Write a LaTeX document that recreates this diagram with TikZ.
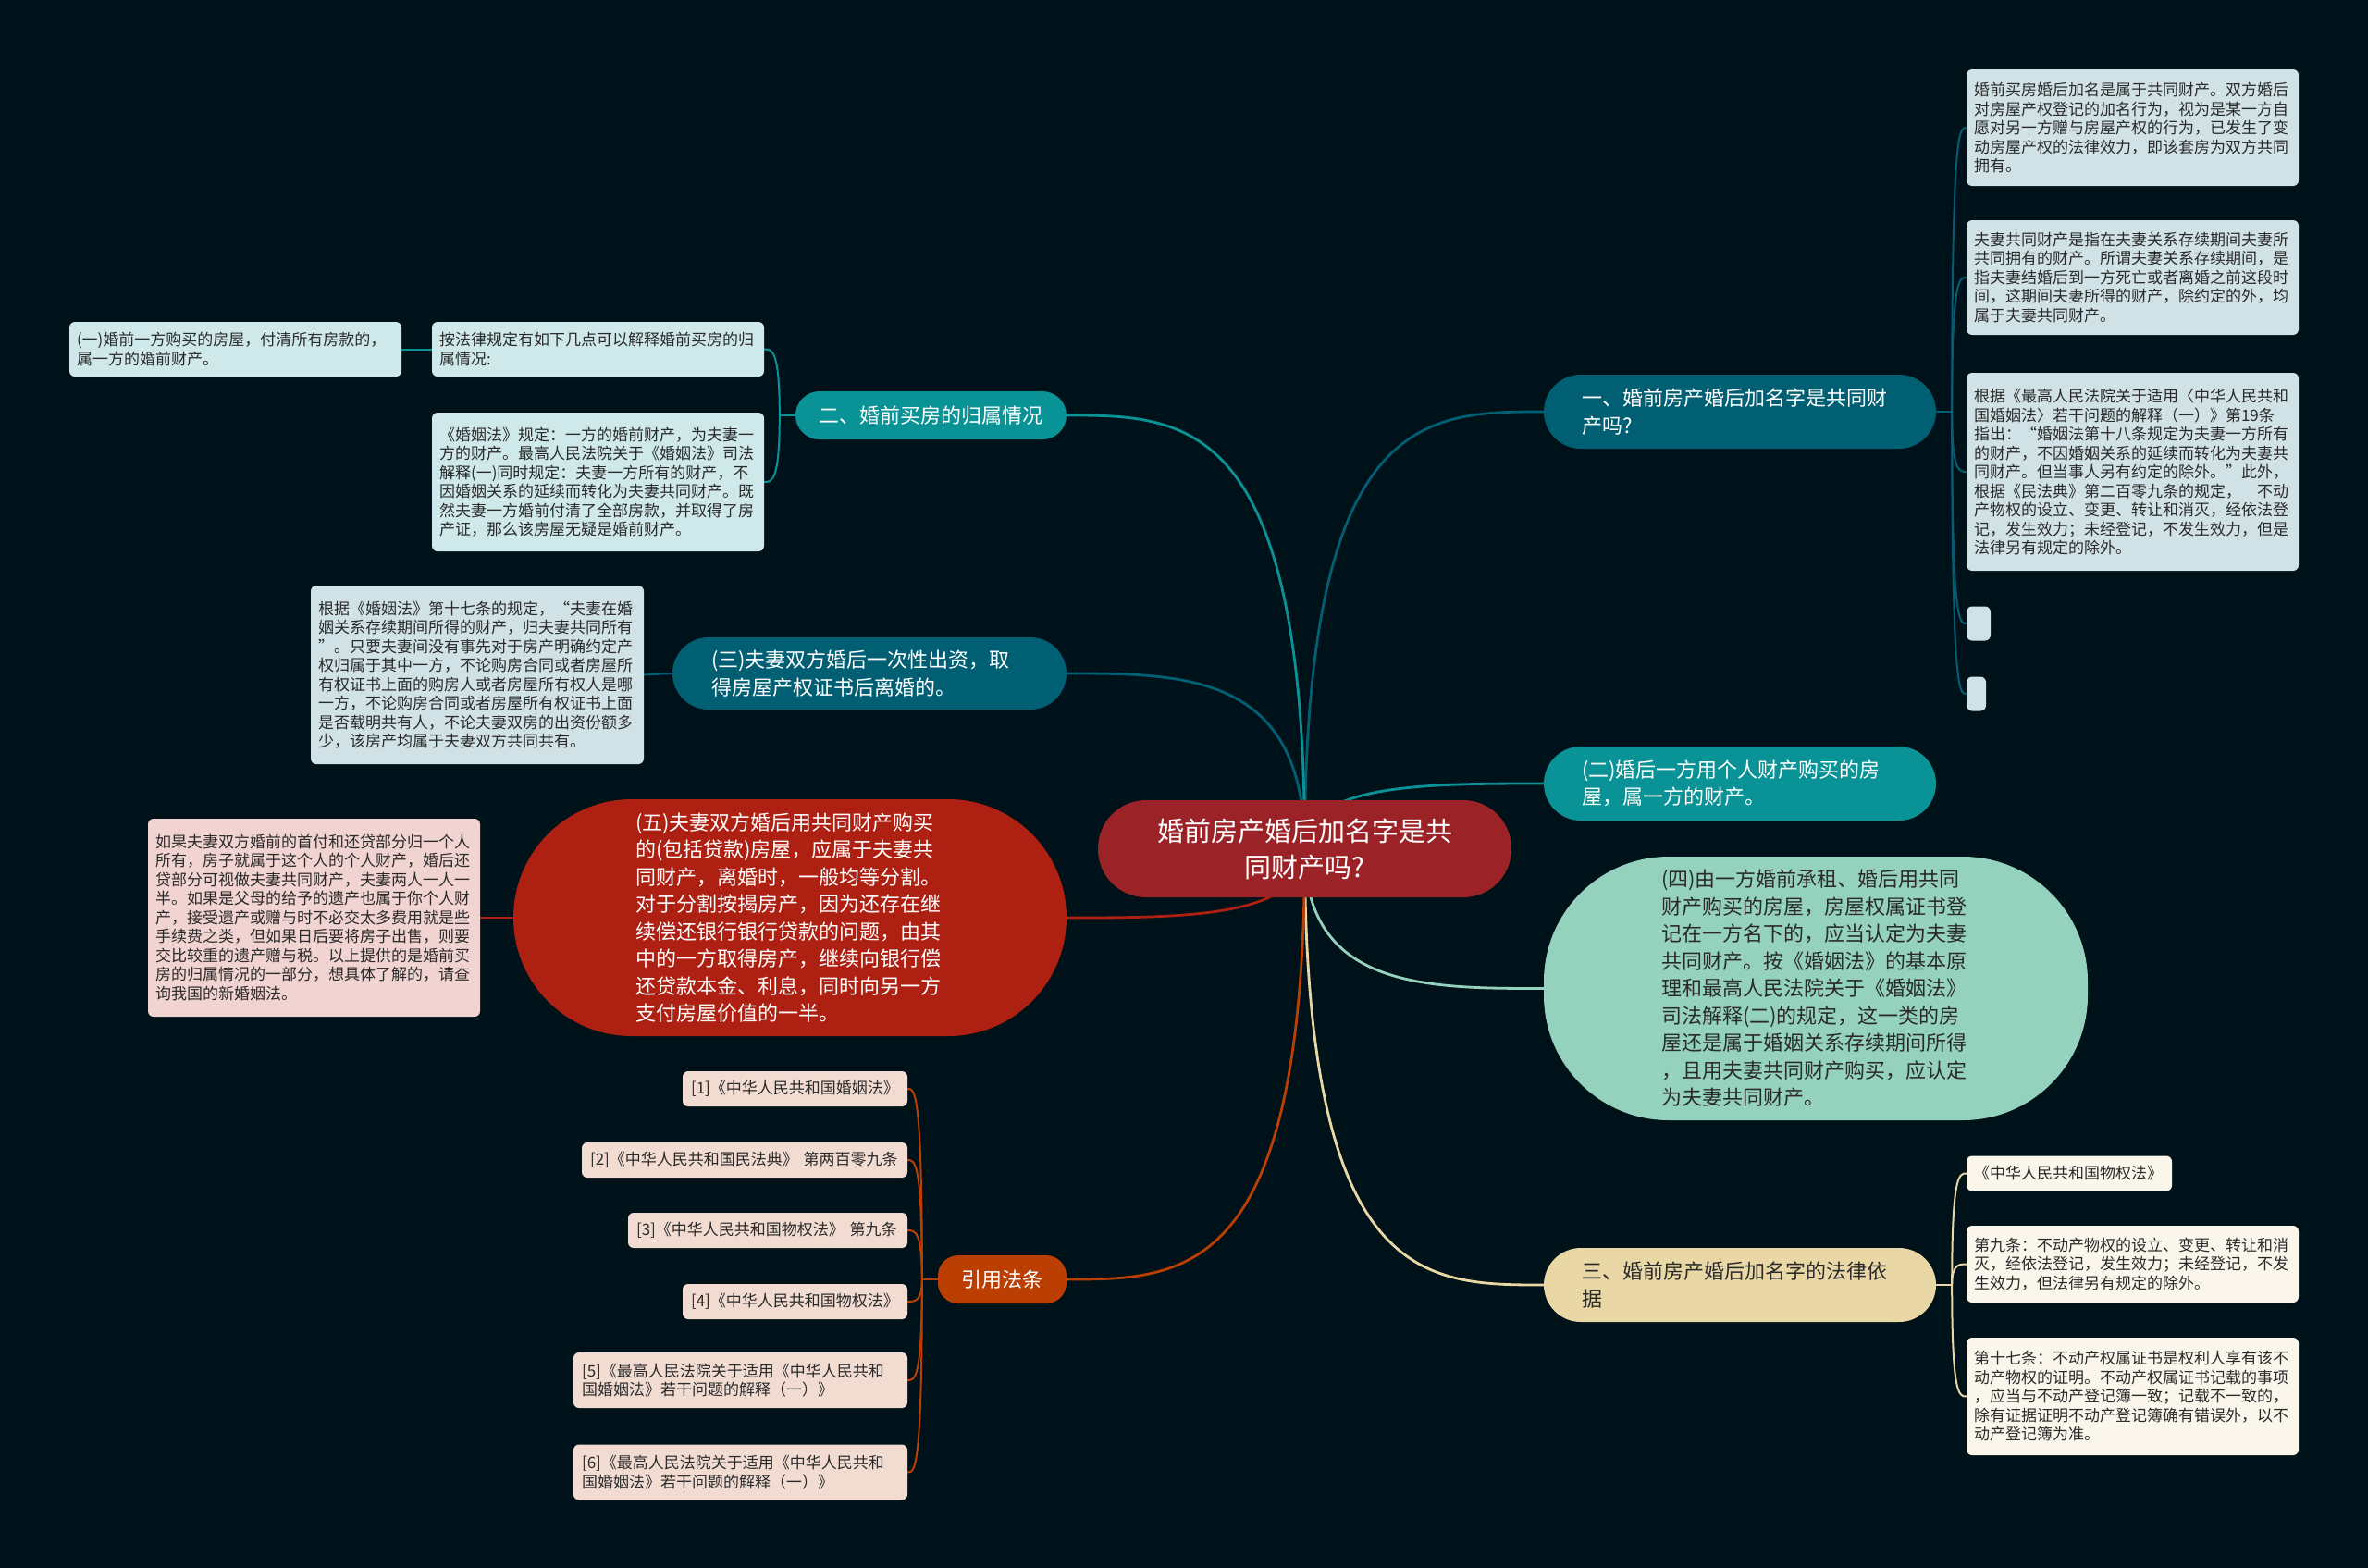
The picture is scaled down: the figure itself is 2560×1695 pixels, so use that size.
\documentclass[tikz,border=0pt]{standalone}
\usepackage{fontspec}
\setmainfont{Noto Sans CJK SC}
\usetikzlibrary{calc}
\definecolor{bgc}{HTML}{001219}
\definecolor{c1}{HTML}{005F73}
\definecolor{c2}{HTML}{0A9396}
\definecolor{c3}{HTML}{94D2BD}
\definecolor{c4}{HTML}{E9D8A6}
\definecolor{c8}{HTML}{BB3E03}
\definecolor{c9}{HTML}{AE2012}
\definecolor{c10}{HTML}{9B2226}
\definecolor{lf1}{HTML}{D0E2E6}
\definecolor{lf2}{HTML}{CFE9EA}
\definecolor{lf4}{HTML}{FAF6EC}
\definecolor{lf8}{HTML}{F2DCD2}
\definecolor{lf9}{HTML}{F1D4D1}
\definecolor{ink}{HTML}{2A2A2A}
\pgfdeclarelayer{back}
\pgfdeclarelayer{links}
\pgfsetlayers{back,links,main}
\newcommand\mmcurve[3]{\draw[#1] let \p1=(#2), \p2=(#3) in (\p1) .. controls (\x1,\y2) and ({0.5*\x1+0.5*\x2},\y2) .. (\p2);}
\tikzset{
  mm/.style={rectangle, inner sep=0pt, align=left},
  rootbox/.style={mm, fill=c10, text=white, align=center, rounded corners=52pt, minimum width=447pt, minimum height=105pt, font=\fontsize{29}{39}\selectfont},
  topic/.style={mm, rounded corners=40pt, minimum height=80pt, font=\fontsize{22}{29.5}\selectfont},
  leaf/.style={mm, rounded corners=6pt, text=ink, font=\fontsize{17}{20.5}\selectfont},
  link/.style={line width=2.8pt},
  sublink/.style={line width=2pt},
}
\begin{document}
\begin{tikzpicture}[x=1pt,y=-1pt]
\useasboundingbox (0,0) rectangle (2560,1695);
\begin{pgfonlayer}{back}
\fill[bgc] (0,0) rectangle (2560,1695);
\end{pgfonlayer}

% root
\node[rootbox] (root) at (1410.5,917.5) {婚前房产婚后加名字是共\\同财产吗?};

% main topics
\node[topic, fill=c1, text=white, minimum width=424pt, text width=342pt] (t1) at (1881,445) {一、婚前房产婚后加名字是共同财\\产吗?};
\node[topic, fill=c2, text=white, minimum width=424pt, text width=342pt] (t2) at (1881,847) {(二)婚后一方用个人财产购买的房\\屋，属一方的财产。};
\node[topic, fill=c3, text=ink, minimum width=588pt, minimum height=285pt, rounded corners=135pt, text width=334pt] (t4) at (1963,1068.5) {(四)由一方婚前承租、婚后用共同\\财产购买的房屋，房屋权属证书登\\记在一方名下的，应当认定为夫妻\\共同财产。按《婚姻法》的基本原\\理和最高人民法院关于《婚姻法》\\司法解释(二)的规定，这一类的房\\屋还是属于婚姻关系存续期间所得\\，且用夫妻共同财产购买，应认定\\为夫妻共同财产。};
\node[topic, fill=c4, text=ink, minimum width=424pt, text width=342pt] (t3) at (1881,1389) {三、婚前房产婚后加名字的法律依\\据};
\node[topic, fill=c2, text=white, minimum width=293pt, minimum height=52pt, rounded corners=26pt, align=center] (t5) at (1006.5,449) {二、婚前买房的归属情况};
\node[topic, fill=c1, text=white, minimum width=426pt, minimum height=78pt, rounded corners=39pt, text width=342pt] (t6) at (940,728) {(三)夫妻双方婚后一次性出资，取\\得房屋产权证书后离婚的。};
\node[topic, fill=c9, text=white, minimum width=598pt, minimum height=256pt, rounded corners=128pt, text width=334pt] (t7) at (854,992) {(五)夫妻双方婚后用共同财产购买\\的(包括贷款)房屋，应属于夫妻共\\同财产，离婚时，一般均等分割。\\对于分割按揭房产，因为还存在继\\续偿还银行银行贷款的问题，由其\\中的一方取得房产，继续向银行偿\\还贷款本金、利息，同时向另一方\\支付房屋价值的一半。};
\node[topic, fill=c8, text=white, minimum width=139pt, minimum height=52pt, rounded corners=22pt, align=center] (t8) at (1083.5,1383) {引用法条};

% leaves of t1
\node[leaf, fill=lf1, minimum width=359pt, minimum height=126pt, text width=343pt] (l1) at (2305.5,138) {婚前买房婚后加名是属于共同财产。双方婚后\\对房屋产权登记的加名行为，视为是某一方自\\愿对另一方赠与房屋产权的行为，已发生了变\\动房屋产权的法律效力，即该套房为双方共同\\拥有。};
\node[leaf, fill=lf1, minimum width=359pt, minimum height=124pt, text width=343pt] (l2) at (2305.5,300) {夫妻共同财产是指在夫妻关系存续期间夫妻所\\共同拥有的财产。所谓夫妻关系存续期间，是\\指夫妻结婚后到一方死亡或者离婚之前这段时\\间，这期间夫妻所得的财产，除约定的外，均\\属于夫妻共同财产。};
\node[leaf, fill=lf1, minimum width=359pt, minimum height=214pt, text width=343pt] (l3) at (2305.5,510) {根据《最高人民法院关于适用〈中华人民共和\\国婚姻法〉若干问题的解释（一）》第19条\\指出：“婚姻法第十八条规定为夫妻一方所有\\的财产，不因婚姻关系的延续而转化为夫妻共\\同财产。但当事人另有约定的除外。”此外，\\根据《民法典》第二百零九条的规定，　不动\\产物权的设立、变更、转让和消灭，经依法登\\记，发生效力；未经登记，不发生效力，但是\\法律另有规定的除外。};
\node[leaf, fill=lf1, minimum width=26pt, minimum height=37pt] (l4) at (2139,674) {};
\node[leaf, fill=lf1, minimum width=21pt, minimum height=37pt] (l5) at (2136.5,750) {};

% leaves of t3
\node[leaf, fill=lf4, minimum width=222pt, minimum height=38pt, text width=206pt] (m1) at (2237,1268.5) {《中华人民共和国物权法》};
\node[leaf, fill=lf4, minimum width=359pt, minimum height=83pt, text width=343pt] (m2) at (2305.5,1366.5) {第九条：不动产物权的设立、变更、转让和消\\灭，经依法登记，发生效力；未经登记，不发\\生效力，但法律另有规定的除外。};
\node[leaf, fill=lf4, minimum width=359pt, minimum height=127pt, text width=343pt] (m3) at (2305.5,1509.5) {第十七条：不动产权属证书是权利人享有该不\\动产物权的证明。不动产权属证书记载的事项\\，应当与不动产登记簿一致；记载不一致的，\\除有证据证明不动产登记簿确有错误外，以不\\动产登记簿为准。};

% leaves of t5
\node[leaf, fill=lf2, minimum width=359pt, minimum height=59pt, text width=343pt] (a1) at (646.5,377.5) {按法律规定有如下几点可以解释婚前买房的归\\属情况:};
\node[leaf, fill=lf2, minimum width=359pt, minimum height=59pt, text width=343pt] (a0) at (254.5,377.5) {(一)婚前一方购买的房屋，付清所有房款的，\\属一方的婚前财产。};
\node[leaf, fill=lf2, minimum width=359pt, minimum height=150pt, text width=343pt] (a2) at (646.5,521) {《婚姻法》规定：一方的婚前财产，为夫妻一\\方的财产。最高人民法院关于《婚姻法》司法\\解释(一)同时规定：夫妻一方所有的财产，不\\因婚姻关系的延续而转化为夫妻共同财产。既\\然夫妻一方婚前付清了全部房款，并取得了房\\产证，那么该房屋无疑是婚前财产。};

% leaf of t6
\node[leaf, fill=lf1, minimum width=360pt, minimum height=193pt, text width=344pt] (b1) at (516,729.5) {根据《婚姻法》第十七条的规定，“夫妻在婚\\姻关系存续期间所得的财产，归夫妻共同所有\\”。只要夫妻间没有事先对于房产明确约定产\\权归属于其中一方，不论购房合同或者房屋所\\有权证书上面的购房人或者房屋所有权人是哪\\一方，不论购房合同或者房屋所有权证书上面\\是否载明共有人，不论夫妻双房的出资份额多\\少，该房产均属于夫妻双方共同共有。};

% leaf of t7
\node[leaf, fill=lf9, minimum width=359pt, minimum height=214pt, text width=343pt] (c1n) at (339.5,992) {如果夫妻双方婚前的首付和还贷部分归一个人\\所有，房子就属于这个人的个人财产，婚后还\\贷部分可视做夫妻共同财产，夫妻两人一人一\\半。如果是父母的给予的遗产也属于你个人财\\产，接受遗产或赠与时不必交太多费用就是些\\手续费之类，但如果日后要将房子出售，则要\\交比较重的遗产赠与税。以上提供的是婚前买\\房的归属情况的一部分，想具体了解的，请查\\询我国的新婚姻法。};

% leaves of t8
\node[leaf, fill=lf8, minimum width=243pt, minimum height=38pt, text width=225pt] (r1) at (859.5,1177) {[1]《中华人民共和国婚姻法》};
\node[leaf, fill=lf8, minimum width=352pt, minimum height=38pt, text width=334pt] (r2) at (805,1254) {[2]《中华人民共和国民法典》~第两百零九条};
\node[leaf, fill=lf8, minimum width=302pt, minimum height=38pt, text width=284pt] (r3) at (830,1330) {[3]《中华人民共和国物权法》~第九条};
\node[leaf, fill=lf8, minimum width=243pt, minimum height=38pt, text width=225pt] (r4) at (859.5,1407) {[4]《中华人民共和国物权法》};
\node[leaf, fill=lf8, minimum width=361pt, minimum height=60pt, text width=343pt] (r5) at (800.5,1492) {[5]《最高人民法院关于适用《中华人民共和\\国婚姻法》若干问题的解释（一）》};
\node[leaf, fill=lf8, minimum width=361pt, minimum height=60pt, text width=343pt] (r6) at (800.5,1591.5) {[6]《最高人民法院关于适用《中华人民共和\\国婚姻法》若干问题的解释（一）》};

% junctions
\coordinate (j1) at ($(t1.east)+(17,0)$);
\coordinate (j3) at ($(t3.east)+(17,0)$);
\coordinate (j5) at ($(t5.west)+(-17,0)$);
\coordinate (j8) at ($(t8.west)+(-17,0)$);

\begin{pgfonlayer}{links}
% main links
\mmcurve{link,c1}{root.center}{t1.west}
\mmcurve{link,c2}{root.center}{t2.west}
\mmcurve{link,c3}{root.center}{t4.west}
\mmcurve{link,c4}{root.center}{t3.west}
\mmcurve{link,c2}{root.center}{t5.east}
\mmcurve{link,c1}{root.center}{t6.east}
\mmcurve{link,c9}{root.center}{t7.east}
\mmcurve{link,c8}{root.center}{t8.east}
% t1 leaves
\draw[sublink,c1] (t1.east) -- (j1);
\mmcurve{sublink,c1}{j1}{l1.west}
\mmcurve{sublink,c1}{j1}{l2.west}
\mmcurve{sublink,c1}{j1}{l3.west}
\mmcurve{sublink,c1}{j1}{l4.west}
\mmcurve{sublink,c1}{j1}{l5.west}
% t3 leaves
\draw[sublink,c4] (t3.east) -- (j3);
\mmcurve{sublink,c4}{j3}{m1.west}
\mmcurve{sublink,c4}{j3}{m2.west}
\mmcurve{sublink,c4}{j3}{m3.west}
% t5 leaves
\draw[sublink,c2] (t5.west) -- (j5);
\mmcurve{sublink,c2}{j5}{a1.east}
\mmcurve{sublink,c2}{j5}{a2.east}
\draw[sublink,c2] (a1.west) -- (a0.east);
% t6, t7
\draw[sublink,c1] (t6.west) -- (b1.east);
\draw[sublink,c9] (t7.west) -- (c1n.east);
% t8 leaves
\draw[sublink,c8] (t8.west) -- (j8);
\mmcurve{sublink,c8}{j8}{r1.east}
\mmcurve{sublink,c8}{j8}{r2.east}
\mmcurve{sublink,c8}{j8}{r3.east}
\mmcurve{sublink,c8}{j8}{r4.east}
\mmcurve{sublink,c8}{j8}{r5.east}
\mmcurve{sublink,c8}{j8}{r6.east}
\end{pgfonlayer}
\end{tikzpicture}
\end{document}
